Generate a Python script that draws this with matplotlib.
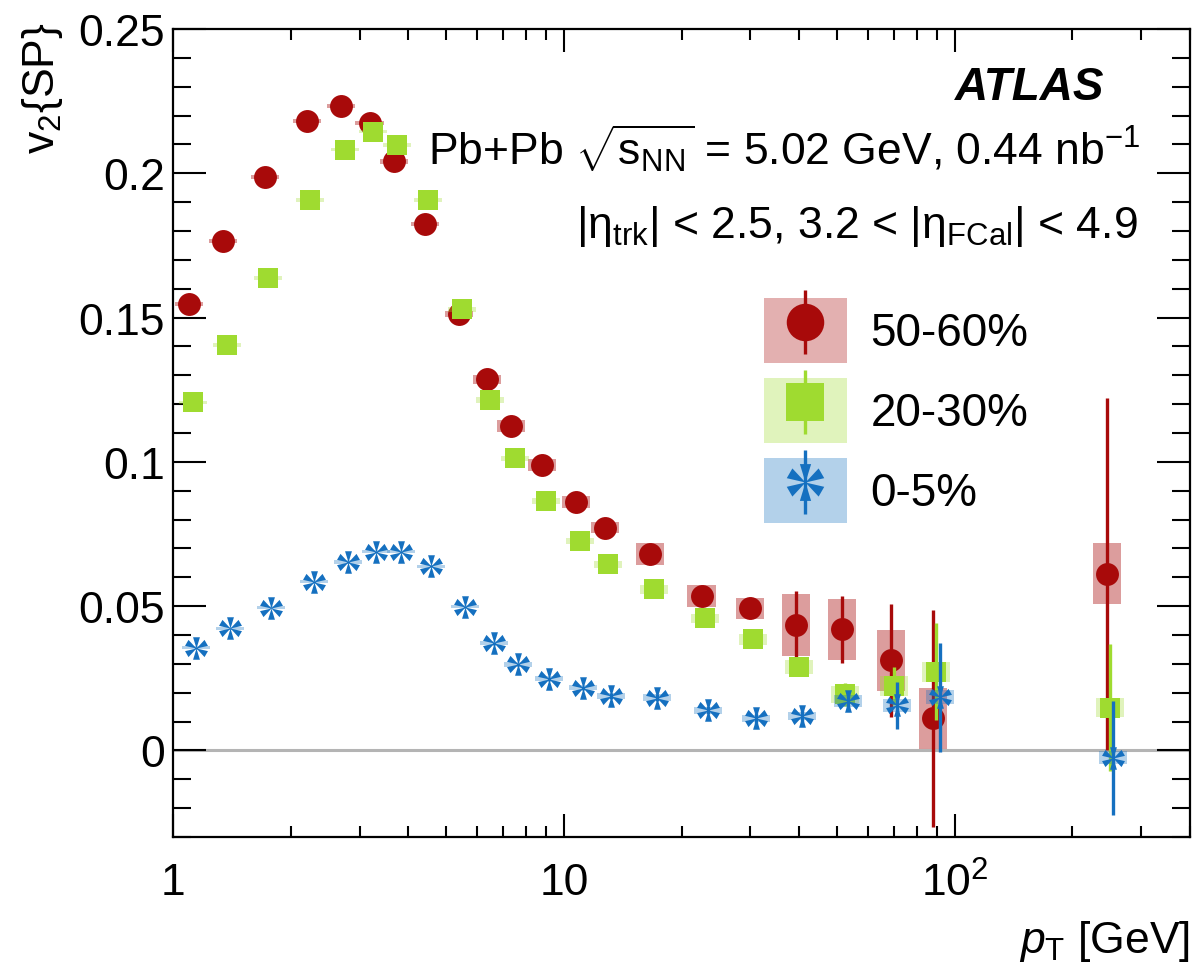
import numpy as np
import matplotlib
matplotlib.use('Agg')
import matplotlib.pyplot as plt
from matplotlib.path import Path
from matplotlib.lines import Line2D
from matplotlib.patches import Patch
from matplotlib.legend_handler import HandlerTuple
from matplotlib.ticker import FixedLocator, FuncFormatter, MultipleLocator, LogLocator, NullFormatter

plt.rcParams['font.family'] = ['Liberation Sans', 'DejaVu Sans']
plt.rcParams['mathtext.fontset'] = 'custom'
plt.rcParams['mathtext.rm'] = 'Liberation Sans'
plt.rcParams['mathtext.it'] = 'Liberation Sans:italic'
plt.rcParams['mathtext.bf'] = 'Liberation Sans:bold'

# pT bin centres (GeV), 50-60% points are drawn at these
pt = np.array([1.10, 1.345, 1.717, 2.203, 2.693, 3.182, 3.675, 4.401, 5.378, 6.36, 7.34,
               8.81, 10.77, 12.72, 16.66, 22.5, 29.86, 39.16, 51.35, 68.56, 87.99, 244.7])

v2_5060 = np.array([0.1546, 0.1764, 0.1988, 0.2182, 0.2234, 0.2176, 0.2041, 0.1824, 0.1512, 0.1286, 0.1125,
                    0.0989, 0.0861, 0.0772, 0.0680, 0.0535, 0.0492, 0.0435, 0.0420, 0.0312, 0.0111, 0.0613])
stat_5060 = np.array([0.0003, 0.0003, 0.0003, 0.0003, 0.0003, 0.0004, 0.0004, 0.0005, 0.0006, 0.0008, 0.001,
                      0.0012, 0.0015, 0.0018, 0.0025, 0.0025, 0.003, 0.0117, 0.0116, 0.0197, 0.0376, 0.061])
sys_5060 = np.array([0.0007, 0.0007, 0.0007, 0.0007, 0.0007, 0.0007, 0.0008, 0.0008, 0.001, 0.0015, 0.002,
                     0.002, 0.002, 0.002, 0.0038, 0.0038, 0.0038, 0.0106, 0.0106, 0.0105, 0.0107, 0.0106])

v2_2030 = np.array([0.1206, 0.1405, 0.1638, 0.1907, 0.2082, 0.2144, 0.2098, 0.1907, 0.1529, 0.1215, 0.1012,
                    0.0864, 0.0726, 0.0645, 0.0558, 0.0458, 0.0385, 0.0289, 0.0194, 0.0223, 0.0273, 0.0148])
stat_2030 = np.array([0.0003, 0.0003, 0.0003, 0.0003, 0.0003, 0.0003, 0.0003, 0.0004, 0.0005, 0.0006, 0.0007,
                      0.0008, 0.001, 0.0012, 0.0015, 0.0018, 0.002, 0.0025, 0.0041, 0.0066, 0.0167, 0.022])
sys_2030 = np.array([0.0006, 0.0006, 0.0006, 0.0006, 0.0006, 0.0006, 0.0006, 0.0006, 0.0008, 0.001, 0.001,
                     0.001, 0.0012, 0.0012, 0.0015, 0.0015, 0.002, 0.0025, 0.003, 0.0035, 0.0035, 0.0033])

v2_005 = np.array([0.0356, 0.0423, 0.0495, 0.0585, 0.0653, 0.0689, 0.0689, 0.0638, 0.0498, 0.0372, 0.0298,
                   0.0249, 0.0217, 0.0188, 0.0183, 0.0140, 0.0111, 0.0119, 0.0171, 0.0157, 0.0185, -0.0025])
stat_005 = np.array([0.0003, 0.0003, 0.0003, 0.0003, 0.0003, 0.0003, 0.0003, 0.0003, 0.0004, 0.0005, 0.0006,
                     0.0007, 0.0008, 0.001, 0.0012, 0.0015, 0.002, 0.002, 0.003, 0.0081, 0.0189, 0.0197])
sys_005 = np.array([0.0006, 0.0006, 0.0006, 0.0006, 0.0006, 0.0006, 0.0006, 0.0006, 0.0006, 0.0007, 0.0008,
                    0.0008, 0.0009, 0.001, 0.0012, 0.0012, 0.0013, 0.0015, 0.002, 0.0022, 0.0025, 0.0022])

labels = ['50-60%', '20-30%', '0-5%']
# small horizontal offsets so the centralities do not sit on top of each other
shifts = [1.0, 1.0202, 1.0397]
box_halfwidth = 1.086  # multiplicative, log axis

red = '#a80a0a'
green = '#9fdb30'
blue = '#1570c0'


def asterisk(delta=17):
    verts, codes = [], []
    for a in [90, 30, -30, -90, -150, 150]:
        a1, a2 = np.radians(a - delta), np.radians(a + delta)
        verts += [(0, 0), (np.cos(a1), np.sin(a1)), (np.cos(a2), np.sin(a2)), (0, 0)]
        codes += [Path.MOVETO, Path.LINETO, Path.LINETO, Path.CLOSEPOLY]
    return Path(verts, codes)


star = asterisk()

fig = plt.figure(figsize=(11.95, 9.78), dpi=100)
ax = fig.add_axes([0.1448, 0.1431, 0.851, 0.8262])

ax.axhline(0, color='#b4b4b4', lw=2.2, zorder=1)

series = [
    (v2_5060, stat_5060, sys_5060, red, 'o', 16.5, 0.4),
    (v2_2030, stat_2030, sys_2030, green, 's', 14.5, 0.32),
    (v2_005, stat_005, sys_005, blue, star, 16.5, 0.32),
]
for i, (y, st, sy, c, m, ms, a) in enumerate(series):
    x = pt * shifts[i]
    z = 2 + 3 * i
    lo = x / box_halfwidth
    hi = x * box_halfwidth
    ax.bar(lo, 2 * sy, width=hi - lo, bottom=y - sy, align='edge',
           color=c, alpha=a, lw=0, zorder=z)
    ax.errorbar(x, y, yerr=st, fmt='none', ecolor=c, elinewidth=2.4,
                capsize=0, zorder=z + 1)
    ax.plot(x, y, ls='none', marker=m, ms=ms, color=c, mew=0, zorder=z + 2)

ax.set_xscale('log')
ax.set_xlim(1, 400)
ax.set_ylim(-0.03, 0.25)

ax.xaxis.set_major_locator(FixedLocator([1, 10, 100]))
ax.xaxis.set_major_formatter(FuncFormatter(
    lambda v, p: {1: '1', 10: '10', 100: r'$10^2$'}.get(int(round(v)), '')))
ax.xaxis.set_minor_locator(LogLocator(base=10, subs=range(2, 10)))
ax.xaxis.set_minor_formatter(NullFormatter())
ax.yaxis.set_major_locator(MultipleLocator(0.05))
ax.yaxis.set_minor_locator(MultipleLocator(0.01))
ax.yaxis.set_major_formatter(FuncFormatter(lambda v, p: f'{round(v, 3):g}'))

ax.tick_params(which='both', direction='in', top=True, right=True, width=1.5,
               labelsize=32)
ax.tick_params(axis='y', which='major', length=24, pad=6)
ax.tick_params(axis='y', which='minor', length=13)
ax.tick_params(axis='x', which='major', length=16.5, pad=18)
ax.tick_params(axis='x', which='minor', length=8)
for s in ax.spines.values():
    s.set_linewidth(1.6)

ax.set_xlabel(r'$p_{\mathrm{T}}$ [GeV]', fontsize=32, loc='right')
ax.xaxis.set_label_coords(1.0, -0.1)
ax.set_ylabel(r'v$_2${SP}', fontsize=32, loc='top')
ax.yaxis.set_label_coords(-0.106, 1.009)

ax.text(0.916, 0.913, 'ATLAS', transform=ax.transAxes, ha='right', va='baseline',
        fontsize=33, fontweight='bold', fontstyle='italic')
ax.text(0.951, 0.832, r'Pb+Pb $\sqrt{\mathrm{s}_{\mathrm{NN}}}$ = 5.02 GeV, 0.44 nb$^{-1}$',
        transform=ax.transAxes, ha='right', va='baseline', fontsize=32)
ax.text(0.949, 0.743, r'|η$_{\mathrm{trk}}$| < 2.5, 3.2 < |η$_{\mathrm{FCal}}$| < 4.9',
        transform=ax.transAxes, ha='right', va='baseline', fontsize=32)

handles = []
for i, (y, st, sy, c, m, ms, a) in enumerate(series):
    box = Patch(facecolor=c, alpha=0.32, edgecolor='none')
    vline = Line2D([], [], ls='none', marker='|', ms=46, mew=2.4, color=c)
    mk = Line2D([], [], ls='none', marker=m, ms=27, mew=0, color=c)
    handles.append((box, vline, mk))
ax.legend(handles, labels, handler_map={tuple: HandlerTuple(ndivide=1, pad=0)},
          loc='upper left', bbox_to_anchor=(0.581, 0.667), frameon=False,
          fontsize=33, handlelength=1.81, handleheight=1.80, labelspacing=0.33,
          handletextpad=0.52, borderpad=0, borderaxespad=0, numpoints=1)

fig.savefig('out.png', dpi=100)
